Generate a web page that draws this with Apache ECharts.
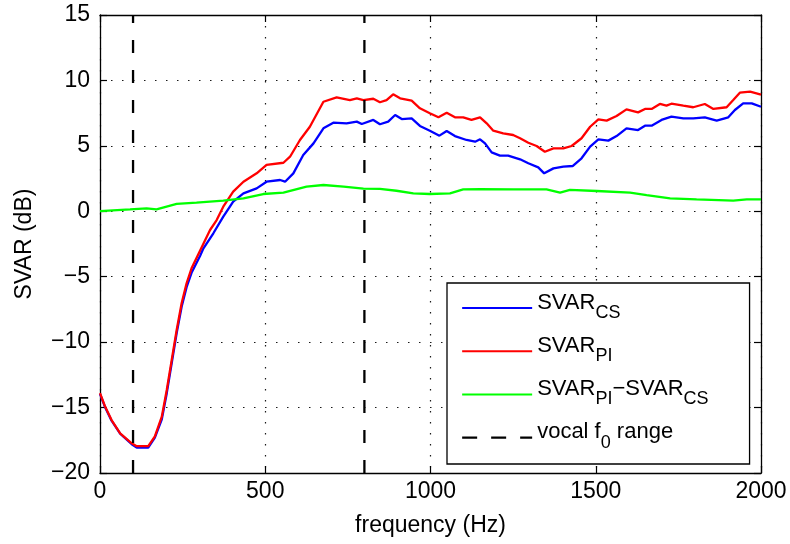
<!DOCTYPE html>
<html>
<head>
<meta charset="utf-8">
<script src="https://cdn.jsdelivr.net/npm/echarts@6/dist/echarts.min.js"></script>
<style>
html,body{margin:0;padding:0;background:#fff;}
#chart{width:790px;height:544px;}
</style>
</head>
<body>
<div id="chart"></div>
<script>
// ---- data ----
const freqCS = [0,15,35,61,96,111,146,166,187,202,217,232,247,262,277,303,313,343,373,403,434,474,504,545,560,585,615,646,676,706,746,777,792,827,847,872,893,913,943,968,998,1027,1049,1074,1109,1135,1150,1165,1185,1210,1235,1271,1296,1326,1344,1372,1402,1430,1457,1483,1508,1538,1563,1593,1628,1649,1669,1699,1729,1765,1795,1830,1866,1901,1921,1946,1972,2000];
const svarCS = [-13.95,-14.95,-16.0,-17.0,-17.8,-18.05,-18.05,-17.3,-15.9,-13.9,-11.6,-9.3,-7.3,-5.8,-4.7,-3.4,-2.83,-1.68,-0.41,0.73,1.37,1.75,2.26,2.39,2.26,2.9,4.3,5.19,6.34,6.77,6.72,6.85,6.67,6.98,6.65,6.85,7.36,7.05,7.1,6.52,6.16,5.78,6.14,5.75,5.45,5.32,5.5,5.19,4.5,4.25,4.25,3.97,3.67,3.36,2.9,3.28,3.41,3.46,4.05,4.94,5.5,5.4,5.75,6.34,6.21,6.54,6.54,6.98,7.23,7.1,7.1,7.18,6.93,7.18,7.74,8.25,8.25,7.99];

const freqPI = [0,15,35,61,96,111,146,166,187,202,217,232,247,262,277,303,333,353,373,403,434,474,504,555,575,605,635,676,716,756,777,797,827,847,867,887,908,943,968,998,1024,1049,1074,1099,1124,1150,1170,1190,1220,1250,1271,1296,1321,1346,1372,1402,1427,1457,1483,1508,1533,1563,1593,1628,1649,1669,1694,1714,1729,1765,1795,1830,1856,1896,1916,1936,1967,2000];
const svarPI = [-13.9,-14.9,-15.95,-16.97,-17.73,-17.95,-17.95,-17.2,-15.7,-13.66,-11.36,-9.07,-7.03,-5.5,-4.36,-3.0,-1.43,-0.67,0.35,1.5,2.26,2.9,3.54,3.71,4.17,5.45,6.46,8.37,8.71,8.5,8.63,8.5,8.6,8.33,8.5,8.94,8.63,8.45,7.87,7.49,7.18,7.53,7.18,7.18,6.98,7.18,6.72,6.16,5.96,5.83,5.58,5.24,4.99,4.55,4.81,4.81,4.99,5.58,6.46,7.03,6.93,7.28,7.79,7.56,7.82,7.82,8.2,8.07,8.22,8.07,7.95,8.2,7.82,7.95,8.5,9.06,9.14,8.91];

const freqDiff = [0,91,141,171,232,292,373,434,494,555,625,676,737,797,847,897,948,998,1059,1099,1150,1250,1351,1392,1422,1503,1604,1654,1725,1805,1916,1957,2000];
const svarDiff = [0.02,0.15,0.23,0.15,0.56,0.66,0.81,0.99,1.32,1.42,1.88,2.01,1.88,1.73,1.72,1.57,1.37,1.32,1.37,1.68,1.7,1.68,1.68,1.42,1.63,1.55,1.42,1.24,0.99,0.91,0.81,0.91,0.91];

const vocalF0 = [100, 800];          // vocal f0 range limits (Hz)
const yRange = [-20, 15];
const xRange = [0, 2000];
const xTicks = [0, 500, 1000, 1500, 2000];
const yTicks = [-20, -15, -10, -5, 0, 5, 10, 15];
const seriesNames = ['SVAR_CS', 'SVAR_PI', 'SVAR_PI-SVAR_CS', 'vocal f0 range'];

// ---- build ----
const zip = (xs, ys) => xs.map((x, i) => [x, ys[i]]);
const FONT = '"Liberation Sans", Arial, Helvetica, sans-serif';
const fmtNum = v => (v < 0 ? '\u2212' + Math.abs(v) : String(v));

const gridSplit = { show: true, lineStyle: { color: '#1a1a1a', width: 1.2, type: [1.5, 9.5] } };
const tickIn = { show: true, inside: true, length: 7, lineStyle: { color: '#000', width: 1.2 } };
const axLine = { show: true, onZero: false, lineStyle: { color: '#000', width: 1.3 } };

function baseX(extra) {
  return Object.assign({
    type: 'value', min: xRange[0], max: xRange[1], interval: xTicks[1] - xTicks[0],
    axisLine: axLine, axisTick: tickIn
  }, extra);
}
function baseY(extra) {
  return Object.assign({
    type: 'value', min: yRange[0], max: yRange[1], interval: yTicks[1] - yTicks[0],
    axisLine: axLine, axisTick: tickIn
  }, extra);
}

const legendText = {
  'SVAR_CS': '{m|SVAR}{s|CS}',
  'SVAR_PI': '{m|SVAR}{s|PI}',
  'SVAR_PI-SVAR_CS': '{m|SVAR}{s|PI}{m|\u2212SVAR}{s|CS}',
  'vocal f0 range': '{m|vocal f}{s|0}{m| range}'
};

const vocalSeries = vocalF0.map(f => ({
  name: seriesNames[3], type: 'line', showSymbol: false, symbol: 'none',
  data: [[f, yRange[0]], [f, yRange[1]]],
  lineStyle: { color: '#000', width: 2.3, type: [13, 17] },
  itemStyle: { color: '#000' }, z: 5, silent: true
}));

const option = {
  animation: false,
  backgroundColor: '#fff',
  textStyle: { fontFamily: FONT },
  grid: { left: 100, top: 15, width: 661, height: 458, show: false },
  xAxis: [
    baseX({
      position: 'bottom',
      name: 'frequency (Hz)', nameLocation: 'middle', nameGap: 41,
      nameTextStyle: { fontSize: 23, color: '#000', fontFamily: FONT },
      axisLabel: { fontSize: 23, color: '#000', margin: 7, fontFamily: FONT, formatter: fmtNum },
      splitLine: gridSplit
    }),
    baseX({ position: 'top', axisLabel: { show: false }, splitLine: { show: false } })
  ],
  yAxis: [
    baseY({
      position: 'left',
      name: 'SVAR (dB)', nameLocation: 'middle', nameGap: 64, nameRotate: 90,
      nameTextStyle: { fontSize: 23, color: '#000', fontFamily: FONT },
      axisLabel: { fontSize: 23, color: '#000', margin: 10, fontFamily: FONT, formatter: fmtNum },
      splitLine: gridSplit
    }),
    baseY({ position: 'right', axisLabel: { show: false }, splitLine: { show: false } })
  ],
  legend: {
    orient: 'vertical', left: 447, top: 283,
    padding: [8.5, 41, 9.9, 14],
    itemGap: 10.2, itemWidth: 70, itemHeight: 14,
    backgroundColor: '#fff', borderColor: '#000', borderWidth: 1.3, borderRadius: 0,
    itemStyle: { opacity: 0 },
    data: [
      { name: seriesNames[0] }, { name: seriesNames[1] }, { name: seriesNames[2] },
      { name: seriesNames[3], lineStyle: { type: [15, 14], width: 2.3, color: '#000' } }
    ],
    formatter: n => legendText[n],
    textStyle: {
      color: '#000', fontFamily: FONT,
      rich: {
        m: { fontSize: 22, color: '#000', fontFamily: FONT, lineHeight: 30, padding: [0, 0, 11, 0] },
        s: { fontSize: 18, color: '#000', fontFamily: FONT, lineHeight: 30, padding: [10, 0, 0, 0] }
      }
    }
  },
  series: [
    { name: seriesNames[0], type: 'line', data: zip(freqCS, svarCS), showSymbol: false, symbol: 'none',
      lineStyle: { color: '#0000ff', width: 2.3 }, itemStyle: { color: '#0000ff' }, z: 2 },
    { name: seriesNames[1], type: 'line', data: zip(freqPI, svarPI), showSymbol: false, symbol: 'none',
      lineStyle: { color: '#ff0000', width: 2.3 }, itemStyle: { color: '#ff0000' }, z: 3 },
    { name: seriesNames[2], type: 'line', data: zip(freqDiff, svarDiff), showSymbol: false, symbol: 'none',
      lineStyle: { color: '#00ff00', width: 2.3 }, itemStyle: { color: '#00ff00' }, z: 4 }
  ].concat(vocalSeries)
};

const chart = echarts.init(document.getElementById('chart'), null, { renderer: 'canvas' });
chart.setOption(option);
</script>
</body>
</html>
